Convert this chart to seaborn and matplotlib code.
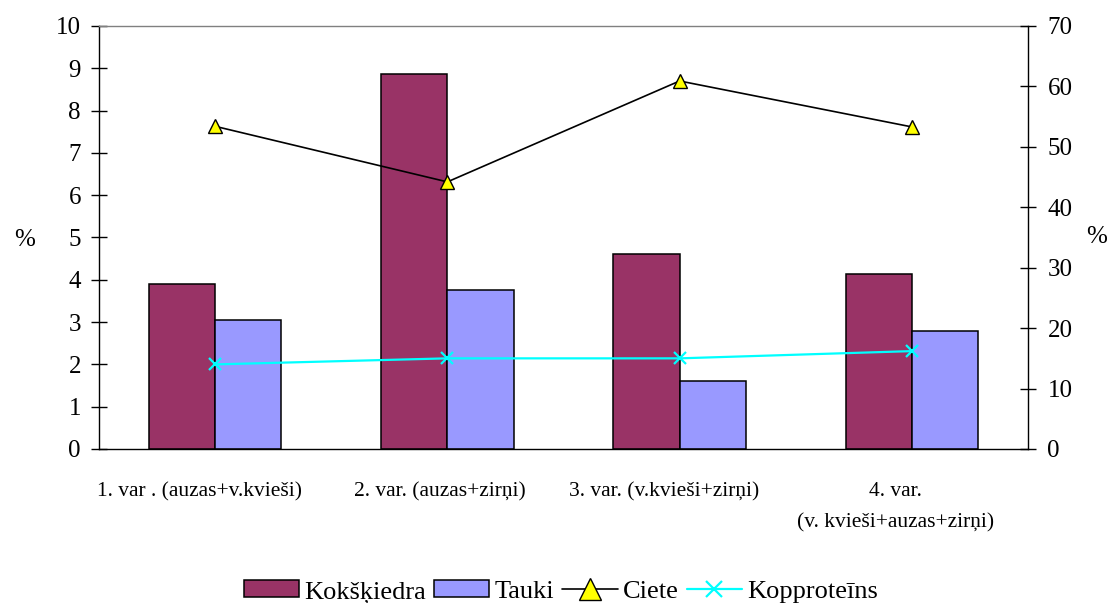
import numpy as np
import pandas as pd
import matplotlib
matplotlib.use("Agg")
import matplotlib.pyplot as plt
import matplotlib.transforms as mtransforms
from matplotlib.patches import Patch
from matplotlib.lines import Line2D
import seaborn as sns

# Feed variants and measured composition
categories = [
    "1. var . (auzas+v.kvieši)",
    "2. var. (auzas+zirņi)",
    "3. var. (v.kvieši+zirņi)",
    "4. var.\n(v. kvieši+auzas+zirņi)",
]
bar_series = ["Kokšķiedra", "Tauki"]
line_series = ["Ciete", "Kopproteīns"]

kokskiedra = [3.9, 8.87, 4.6, 4.13]      # left axis, %
tauki = [3.05, 3.75, 1.61, 2.8]          # left axis, %
ciete = [53.4, 44.2, 60.9, 53.3]         # right axis, %
kopproteins = [14.0, 15.0, 15.0, 16.2]   # right axis, %

left_ticks = list(range(0, 11))
right_ticks = list(range(0, 71, 10))

MAROON = "#993366"
LILAC = "#9999FF"
CYAN = "#00FFFF"
YELLOW = "#FFFF00"

sns.set_style("white")
plt.rcParams["font.family"] = ["Liberation Serif", "DejaVu Serif"]
plt.rcParams["text.color"] = "black"
plt.rcParams["xtick.color"] = "black"
plt.rcParams["ytick.color"] = "black"
plt.rcParams["axes.labelcolor"] = "black"

bars = pd.DataFrame({
    "var": categories * 2,
    "series": [bar_series[0]] * len(categories) + [bar_series[1]] * len(categories),
    "value": kokskiedra + tauki,
})
lines = pd.DataFrame({
    "var": categories * 2,
    "series": [line_series[0]] * len(categories) + [line_series[1]] * len(categories),
    "value": ciete + kopproteins,
})

fig = plt.figure(figsize=(11.1, 6.03), dpi=100)
ax = fig.add_axes([0.0892, 0.2554, 0.8369, 0.7015])

sns.barplot(
    data=bars, x="var", y="value", hue="series",
    order=categories, hue_order=bar_series,
    palette=[MAROON, LILAC], saturation=1,
    width=0.5714, gap=0, errorbar=None,
    edgecolor="black", linewidth=1.1,
    legend=False, ax=ax,
)

ax2 = ax.twinx()
sns.pointplot(
    data=lines[lines["series"] == "Ciete"], x="var", y="value",
    order=categories, color="black", markers="^", linestyles="-",
    errorbar=None, ax=ax2,
    linewidth=1.2, markersize=9.5, markeredgewidth=1.0,
    markerfacecolor=YELLOW, markeredgecolor="black",
)
sns.pointplot(
    data=lines[lines["series"] == "Kopproteīns"], x="var", y="value",
    order=categories, color=CYAN, markers="x", linestyles="-",
    errorbar=None, ax=ax2,
    linewidth=1.6, markersize=9, markeredgewidth=1.6,
)

# Axis ranges
ax.set_xlim(-0.5, len(categories) - 0.5)
ax.set_ylim(left_ticks[0], left_ticks[-1])
ax2.set_ylim(right_ticks[0], right_ticks[-1])

ax.set_xlabel("")
ax.set_ylabel("")
ax2.set_xlabel("")
ax2.set_ylabel("")

# Category labels under each group, tick marks between groups
ax.set_xticks(range(len(categories)))
ax.set_xticklabels(categories, fontsize=15.5, linespacing=1.85, va="top")
ax.tick_params(axis="x", which="major", length=0, pad=24)
ax.set_xticks(np.arange(-0.5, len(categories), 1.0), minor=True)
ax.tick_params(axis="x", which="minor", direction="inout", length=12,
               width=1.0, color="black")
label_shift_px = [-16, -7, -15, -16]
for lbl, dx in zip(ax.get_xticklabels(), label_shift_px):
    shift = mtransforms.ScaledTranslation(dx / 100, 0, fig.dpi_scale_trans)
    lbl.set_transform(lbl.get_transform() + shift)

ax.set_yticks(left_ticks)
ax.tick_params(axis="y", direction="inout", length=12, width=1.0,
               color="black", labelsize=18, pad=7)
ax2.set_yticks(right_ticks)
ax2.tick_params(axis="y", direction="inout", length=12, width=1.0,
                color="black", labelsize=18, pad=8)
ax2.tick_params(axis="x", which="both", length=0)

for s in ["left", "bottom"]:
    ax.spines[s].set_color("black")
    ax.spines[s].set_linewidth(1.0)
ax.spines["top"].set_color("#808080")
ax.spines["top"].set_linewidth(1.0)
ax.spines["right"].set_visible(False)
for s in ["left", "bottom", "top"]:
    ax2.spines[s].set_visible(False)
ax2.spines["right"].set_color("black")
ax2.spines["right"].set_linewidth(1.0)

# Unit labels beside both value axes
fig.text(25 / 1110, 1 - 240 / 603, "%", fontsize=18, ha="center", va="center")
fig.text(1097 / 1110, 1 - 237 / 603, "%", fontsize=18, ha="center", va="center")

handles = [
    Patch(facecolor=MAROON, edgecolor="black", linewidth=1.1),
    Patch(facecolor=LILAC, edgecolor="black", linewidth=1.1),
    Line2D([], [], color="black", linewidth=1.2, marker="^", markersize=16,
           markerfacecolor=YELLOW, markeredgecolor="black", markeredgewidth=1.0),
    Line2D([], [], color=CYAN, linewidth=1.6, marker="x", markersize=11,
           markeredgewidth=1.6),
]
fig.legend(
    handles, bar_series + line_series,
    loc="center", bbox_to_anchor=(561 / 1110, 1 - 592 / 603),
    ncol=4, frameon=False, fontsize=19,
    handlelength=2.1, handleheight=0.6, handletextpad=0.2, columnspacing=0.3,
)

fig.savefig("out.png", dpi=100)
